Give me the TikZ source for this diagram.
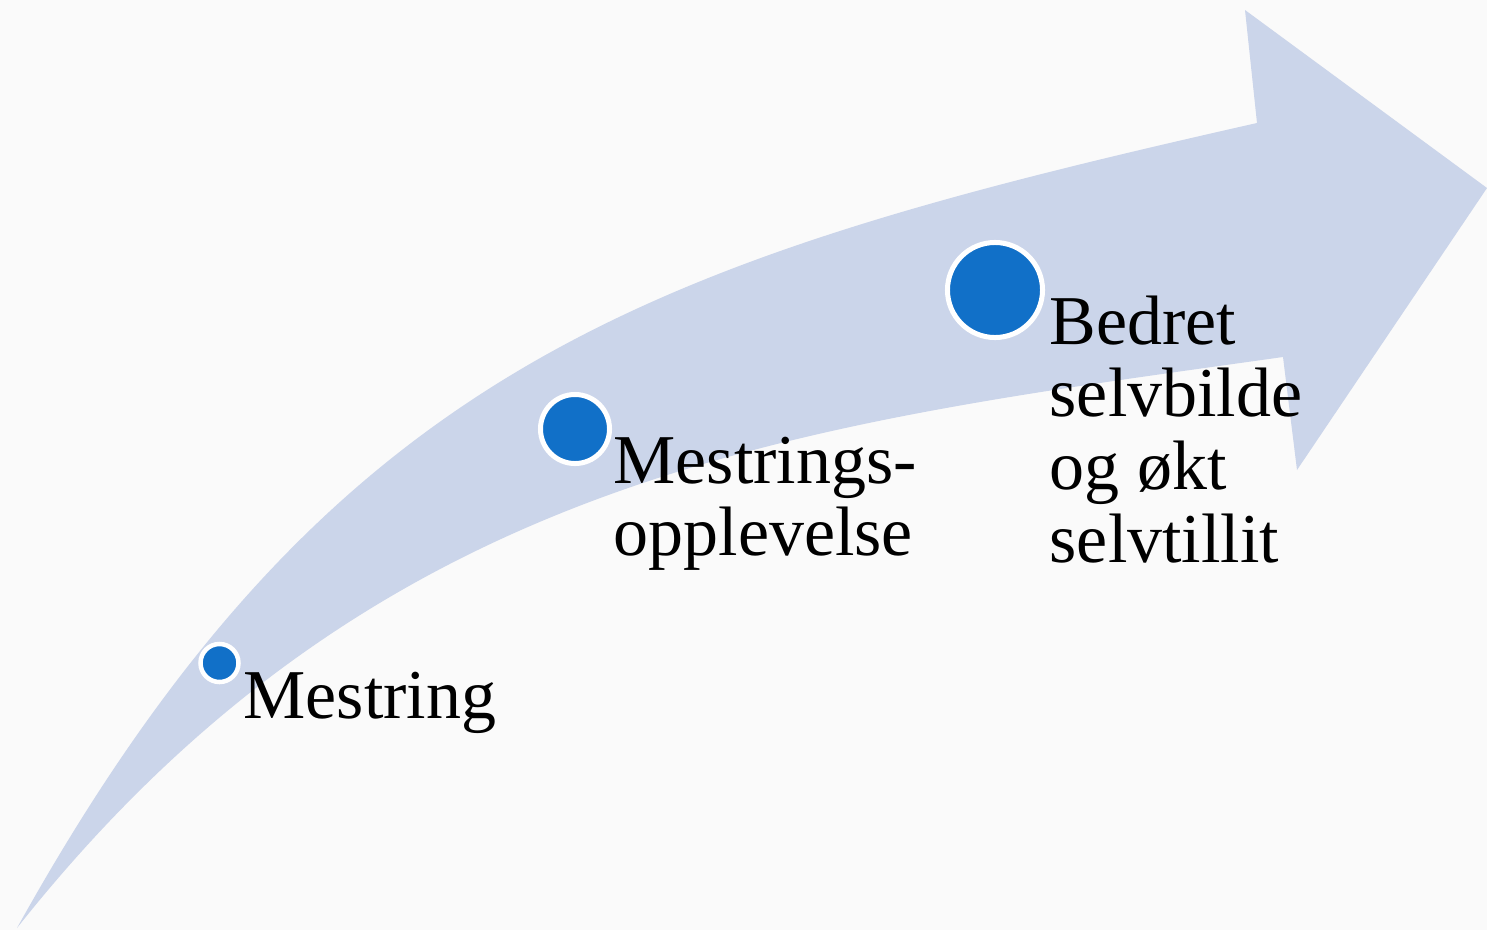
\documentclass[tikz,border=0pt]{standalone}
\usepackage{fontspec}
\setmainfont{Liberation Serif}
\definecolor{bandcol}{HTML}{CBD5EA}
\definecolor{dotcol}{HTML}{1170C8}
\definecolor{bgcol}{HTML}{FAFAFA}
\begin{document}
\begin{tikzpicture}[x=0.01cm,y=-0.01cm,
  dotstyle/.style={circle,fill=dotcol,draw=white,inner sep=0pt},
  txt/.style={anchor=base west,inner sep=0pt,font=\fontsize{19.9}{20.7}\selectfont}]
\fill[bgcol] (0,0) rectangle (1487,930);
\useasboundingbox (0,0) rectangle (1487,930);
\fill[bandcol] (17,928) .. controls (330,365) and (650,260) .. (1257,123)
  -- (1245,10) -- (1487,188) -- (1297,470) -- (1283,357)
  .. controls (800,425) and (380,470) .. (17,928) -- cycle;
\node[dotstyle,minimum size=0.38cm,line width=0.045cm] (d1) at (219.5,663) {};
\node[dotstyle,minimum size=0.69cm,line width=0.05cm] (d2) at (575,429) {};
\node[dotstyle,minimum size=0.95cm,line width=0.05cm] (d3) at (995,290) {};
\node[txt] (t1) at (243,718) {Mestring};
\node[txt] (t2) at (613,483) {\begin{tabular}[t]{@{}l@{}}Mestrings-\\opplevelse\end{tabular}};
\node[txt] (t3) at (1049,344) {\begin{tabular}[t]{@{}l@{}}Bedret\\selvbilde\\og økt\\selvtillit\end{tabular}};
\end{tikzpicture}
\end{document}
